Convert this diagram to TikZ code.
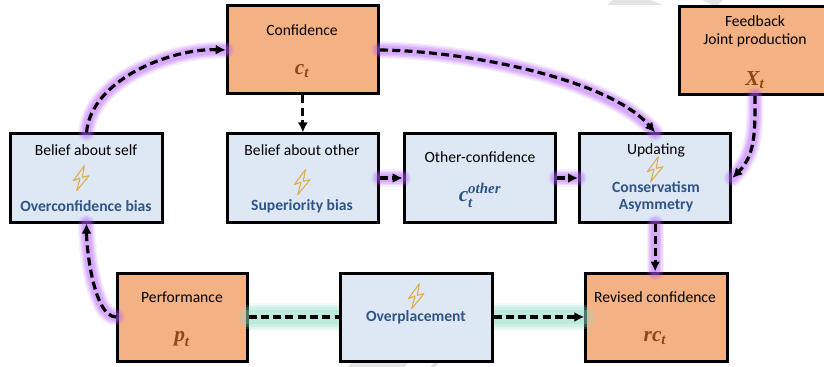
\documentclass[tikz,border=0pt]{standalone}
\usepackage{amsmath}
\usepackage{fontspec}
\setmainfont{Carlito}
\newfontfamily\symfont{Liberation Serif}
\usetikzlibrary{arrows.meta,positioning}
\definecolor{orangefill}{HTML}{F4B183}
\definecolor{bluefill}{HTML}{DEE8F4}
\definecolor{biastext}{HTML}{2F5486}
\definecolor{symtext}{HTML}{8A4A16}
\definecolor{boltcol}{HTML}{DDAE4C}
\definecolor{glowpurple}{HTML}{B45CFF}
\definecolor{glowteal}{HTML}{8FDCC6}
\definecolor{wmark}{HTML}{E4E4E4}
\newcommand{\sym}[1]{\text{\symfont\bfseries\itshape #1}}
\tikzstyle{orangebox} = [rectangle, draw, line width=2.25pt, fill=orangefill, minimum height=66pt, minimum width=113.5pt]
\tikzstyle{bluebox} = [rectangle, draw, line width=2.25pt, fill=bluefill, minimum height=66pt, minimum width=113.5pt]
\tikzstyle{lbl} = [font=\fontsize{11.7}{13}\selectfont, inner sep=0pt]
\tikzstyle{biaslbl} = [lbl, font=\fontsize{11.7}{13}\selectfont\bfseries, text=biastext]
\tikzstyle{symlbl} = [inner sep=0pt, text=symtext, font=\fontsize{16}{18}\selectfont]
\tikzstyle{line} = [draw, -{Latex[length=7.5pt,width=7.5pt]}, line width=2.4pt, dash pattern=on 6pt off 3.2pt]
\tikzstyle{purpleline} = [line,
    preaction={draw=glowpurple, solid, -, line cap=round, line width=13pt, draw opacity=.1},
    preaction={draw=glowpurple, solid, -, line cap=round, line width=11pt, draw opacity=.14},
    preaction={draw=glowpurple, solid, -, line cap=round, line width=9pt, draw opacity=.18},
    preaction={draw=glowpurple, solid, -, line cap=round, line width=6.5pt, draw opacity=.25}]
\tikzset{tealline/.style 2 args={line,
    preaction={draw=glowteal, solid, -, line width=21pt, draw opacity=.12},
    preaction={draw=glowteal, solid, -, line width=18pt, draw opacity=.18, shorten <=-.3*#1, shorten >=-.3*#2},
    preaction={draw=glowteal, solid, -, line width=15pt, draw opacity=.22, shorten <=-.6*#1, shorten >=-.6*#2},
    preaction={draw=glowteal, solid, -, line width=11pt, draw opacity=.28, shorten <=-#1, shorten >=-#2}},
  bolt/.pic={
    \draw [boltcol, line width=.8pt, line join=round] (3.3,-12.3) -- (-7.7,2.7) -- (-1,0) -- (-4.3,12.7) -- (8,-2.3) -- (1.3,-.7) -- cycle;
}}
\begin{document}
\begin{tikzpicture}[x=.75pt, y=-.75pt]
      \useasboundingbox (0,0) rectangle (824,367);
      % watermark behind the figure
      \fill [wmark] (613,0) -- (650,0) -- (663,5) -- (607,5) -- cycle;
      \fill [wmark] (702,0) -- (723,0) -- (718,5) -- (712,5) -- cycle;
      \fill [wmark] (347,367) -- (352,363) -- (408,363) -- (404,367) -- cycle;
      \fill [wmark] (430,367) -- (434,363) -- (438,363) -- (436,367) -- cycle;
      % Boxes
      \node [bluebox] (self) at (86.5,178) {};
      \node [bluebox, right=46.5pt of self] (other) {};
      \node [bluebox, right=17pt of other] (otherconf) {};
      \node [bluebox, right=15.75pt of otherconf] (update) {};
      \node [orangebox, above=27.75pt of other] (conf) {};
      \node [orangebox, minimum width=114pt] (feed) at (755,50.5) {};
      \node [orangebox, minimum width=97pt] (perf) at (182.5,317) {};
      \node [bluebox, right=68pt of perf] (over) {};
      \node [orangebox, minimum width=106pt, right=68pt of over] (revised) {};
      % Texts
      \node [lbl] (conftxt) at (302,30) {Confidence};
      \node [symlbl] (confsym) at (302,71) {$\sym{c}_{\sym{t}}$};
      \node [lbl] (selftxt) at (86,150) {Belief about self};
      \node [biaslbl] (selfbias) at (86,206) {Overconfidence bias};
      \node [lbl] (othertxt) at (302,150) {Belief about other};
      \node [biaslbl] (otherbias) at (302,206) {Superiority bias};
      \node [lbl] (otherconftxt) at (480,157) {Other-confidence};
      \node [symlbl, text=biastext] (otherconfsym) at (480,195) {$\sym{c}_{\sym{t}}^{\sym{other}}$};
      \node [lbl] (updatetxt) at (656,150) {Updating};
      \node [biaslbl] (updatebias) at (656,187) {Conservatism};
      \node [biaslbl] (updatebiastwo) at (656,206) {Asymmetry};
      \node [lbl] (feedtxt) at (755,21) {Feedback};
      \node [lbl] (feedtxttwo) at (755,40) {Joint production};
      \node [symlbl] (feedsym) at (755,80) {$\sym{X}_{\sym{t}}$};
      \node [lbl] (perftxt) at (182,297) {Performance};
      \node [symlbl] (perfsym) at (182,339) {$\sym{p}_{\sym{t}}$};
      \node [biaslbl] (overbias) at (416,317) {Overplacement};
      \node [lbl] (revisedtxt) at (655,297) {Revised confidence};
      \node [symlbl] (revisedsym) at (655,338) {$\sym{rc}_{\sym{t}}$};
      % Bolts
      \pic at (81,178) {bolt};
      \pic at (302,182) {bolt};
      \pic at (655,169) {bolt};
      \pic at (416,296) {bolt};
      % Draw edges
      \path [purpleline] (self.north) to[out=85,in=178,looseness=.85] (conf.west);
      \path [purpleline] (conf.east) .. controls (470,51) and (610,80) .. (update.north);
      \path [line] (conf) -- (other);
      \path [purpleline] (other) -- (otherconf);
      \path [purpleline] (otherconf) -- (update);
      \path [purpleline] (feed.south) to[out=-90,in=45] (update.east);
      \path [purpleline] (update) -- (revised.north -| update);
      \path [purpleline] (perf.west) to[out=180,in=-90,looseness=.6] (self.south);
      \path [tealline={7pt}{0pt}, -] (perf) -- (over);
      \path [tealline={0pt}{7pt}] (over) -- (revised);
  \end{tikzpicture}
\end{document}
